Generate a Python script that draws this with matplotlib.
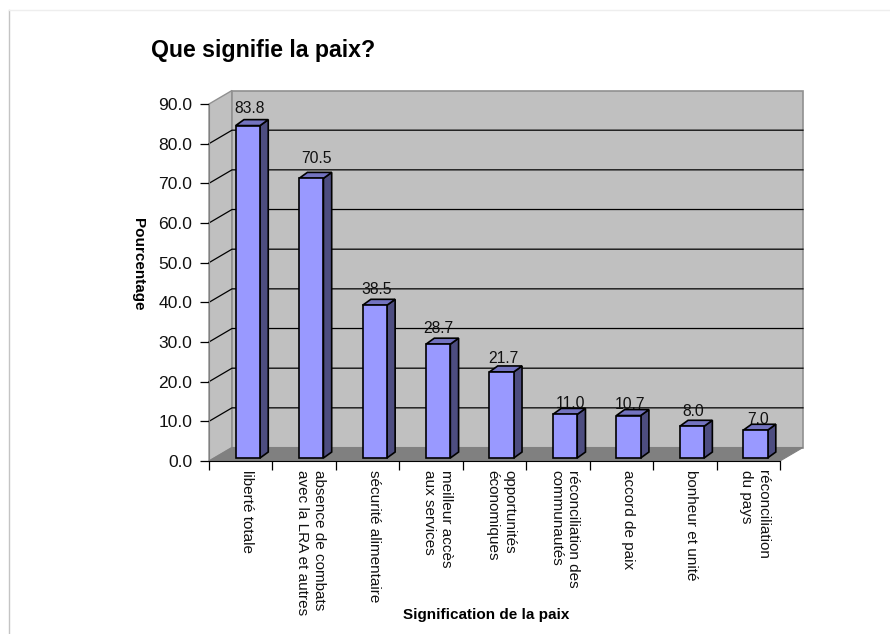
import matplotlib
matplotlib.use('Agg')
import matplotlib.pyplot as plt
from matplotlib.patches import Polygon
from matplotlib.lines import Line2D

plt.rcParams['font.family'] = ['Liberation Sans', 'DejaVu Sans']

categories = ['liberté totale', 'absence de combats\navec la LRA et autres', 'sécurité alimentaire',
              'meilleur accès\naux services', 'opportunités\néconomiques', 'réconciliation des\ncommunautés',
              'accord de paix', 'bonheur et unité', 'réconciliation\ndu pays']
values = [83.8, 70.5, 38.5, 28.7, 21.7, 11.0, 10.7, 8.0, 7.0]
yticks = [0, 10, 20, 30, 40, 50, 60, 70, 80, 90]

# small nudges of the value labels, the original is not regular
label_dx = [0.02, 0.08, 0.03, 0.0, 0.02, 0.08, 0.03, 0.02, 0.05]
label_dy = [0.0, 0.8, -0.3, -0.3, -1.0, -1.5, -1.5, -0.5, -1.5]

W, H = 890, 634
fig = plt.figure(figsize=(W / 100, H / 100), dpi=100)
ax = fig.add_axes([209 / W, (H - 461) / H, 571 / W, 357 / H])
ax.set_xlim(0, 9)
ax.set_ylim(0, 90)

# depth of the fake 3d box, in data units
dx, dy = 0.3625, 3.4
# same for the bars
bar_w = 0.383
bar_x0 = 0.11
bar_y0 = 0.76
bar_dx = 0.13
bar_dy = 1.5

wall = '#c0c0c0'
ax.add_patch(Polygon([(0, 0), (dx, dy), (dx, 90 + dy), (0, 90)], fc=wall, ec='#909090', lw=1.0, clip_on=False, zorder=1))
ax.add_patch(Polygon([(dx, dy), (9 + dx, dy), (9 + dx, 90 + dy), (dx, 90 + dy)], fc=wall, ec='#909090', lw=1.2, clip_on=False, zorder=1))
ax.add_patch(Polygon([(0, 0), (9, 0), (9 + dx, dy), (dx, dy)], fc='#808080', ec='#808080', lw=0.8, clip_on=False, zorder=1.5))

for v in yticks[1:-1]:
    ax.plot([0, dx, 9 + dx], [v, v + dy, v + dy], color='black', lw=0.9, clip_on=False, zorder=2)

for i, v in enumerate(values):
    x0 = (63.44 * i + 26.7) / 63.44
    x1 = x0 + bar_w
    y0 = bar_y0
    y1 = v + bar_y0
    ax.text((x0 + x1) / 2 + label_dx[i], y1 + 4.3 + label_dy[i], f'{v:.1f}', ha='center', va='center',
            fontsize=11.3, color='#111111', zorder=3)
    ax.add_patch(Polygon([(x1, y0), (x1 + bar_dx, y0 + bar_dy), (x1 + bar_dx, y1 + bar_dy), (x1, y1)],
                         fc='#4d4d80', ec='black', lw=1.2, clip_on=False, zorder=4))
    ax.add_patch(Polygon([(x0, y1), (x1, y1), (x1 + bar_dx, y1 + bar_dy), (x0 + bar_dx, y1 + bar_dy)],
                         fc='#7373c0', ec='black', lw=1.2, clip_on=False, zorder=4))
    ax.add_patch(Polygon([(x0, y0), (x1, y0), (x1, y1), (x0, y1)],
                         fc='#9999ff', ec='black', lw=1.2, clip_on=False, zorder=5))
    ax.text(i + 0.6, -2.3, categories[i], rotation=270, ha='center', va='top', multialignment='left',
            fontsize=11, linespacing=1.25, color='#111111')

ax.spines['top'].set_visible(False)
ax.spines['right'].set_visible(False)
ax.spines['left'].set_color('#808080')
ax.spines['left'].set_zorder(6)
ax.spines['bottom'].set_zorder(6)
ax.set_xticks(range(10))
ax.set_xticklabels([])
ax.set_yticks(yticks)
ax.set_yticklabels([f'{t:.1f}' for t in yticks], fontsize=12.6, color='#111111')
ax.tick_params(length=6.2, width=0.9, pad=6)

fig.text(151 / W, 1 - 50 / H, 'Que signifie la paix?', fontsize=16.7, fontweight='bold', va='center', ha='left')
fig.text(138 / W, 1 - 264 / H, 'Pourcentage', fontsize=11, fontweight='bold', rotation=270, va='center', ha='center')
fig.text(486 / W, 1 - 615 / H, 'Signification de la paix', fontsize=11, fontweight='bold', va='center', ha='center')

# frame of the pasted chart
fig.add_artist(Line2D([9 / W, 9 / W], [0, 1 - 10 / H], color='#c4c4c4', lw=1))
fig.add_artist(Line2D([9 / W, 1], [1 - 10 / H, 1 - 10 / H], color='#eeeeee', lw=1))

fig.savefig('out.png', dpi=100)
